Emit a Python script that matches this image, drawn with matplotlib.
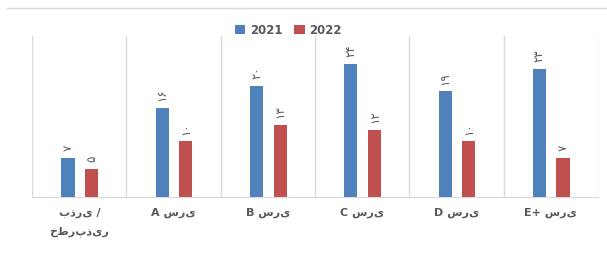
import numpy as np
import matplotlib.pyplot as plt
from matplotlib.lines import Line2D

plt.rcParams['font.family'] = ['DejaVu Sans']

# categories (display order), values per year
categories = ['بذری /\nخطرپذیر', 'A سری', 'B سری', 'C سری', 'D سری', 'E+ سری']
years = ['2021', '2022']
vals_2021 = [7, 16, 20, 24, 19, 23]
vals_2022 = [5, 10, 13, 12, 10, 7]
labels_2021 = ['۷', '۱۶', '۲۰', '۲۴', '۱۹', '۲۳']
labels_2022 = ['۵', '۱۰', '۱۳', '۱۲', '۱۰', '۷']

blue = '#4F81BD'
red = '#C0504D'
grey = '#595959'
line_c = '#D9D9D9'

fig = plt.figure(figsize=(6.07, 2.62), dpi=100)
ax = fig.add_axes([0.053, 0.248, 0.932, 0.615])

x = np.arange(len(categories))
w = 0.14
b1 = ax.bar(x - 0.12, vals_2021, w, color=blue, label=years[0])
b2 = ax.bar(x + 0.13, vals_2022, w, color=red, label=years[1])

for bars, labs in [(b1, labels_2021), (b2, labels_2022)]:
    for r, t in zip(bars, labs):
        ax.annotate(t, (r.get_x() + r.get_width() / 2, r.get_height()),
                    xytext=(0, 5), textcoords='offset points', rotation=90,
                    ha='center', va='bottom', fontsize=8.5, color=grey)

ax.set_xlim(-0.5, len(categories) - 0.5)
ax.set_ylim(0, 29)
ax.set_yticks([])
ax.set_xticks(x)
ax.set_xticklabels(categories, fontsize=8, color=grey, fontweight='bold')
for t in ax.get_xticklabels():
    t.set_linespacing(2.0)
ax.tick_params(axis='x', length=0, pad=8)
for s in ['top', 'right', 'left']:
    ax.spines[s].set_visible(False)
ax.spines['bottom'].set_color(line_c)

# category separators
for xs in np.arange(-0.5, len(categories), 1.0):
    ax.axvline(xs, color=line_c, lw=1, zorder=0)

# top border of chart frame
fig.add_artist(Line2D([0.012, 1.0], [0.97, 0.97], color=line_c, lw=1))

leg = fig.legend(loc='center', bbox_to_anchor=(0.475, 0.885), ncol=2, frameon=False,
                 handlelength=0.9, handleheight=0.9, columnspacing=1.0, handletextpad=0.4,
                 prop={'size': 8.5, 'weight': 'bold'})
for t in leg.get_texts():
    t.set_color(grey)

fig.savefig('out.png', dpi=100)
